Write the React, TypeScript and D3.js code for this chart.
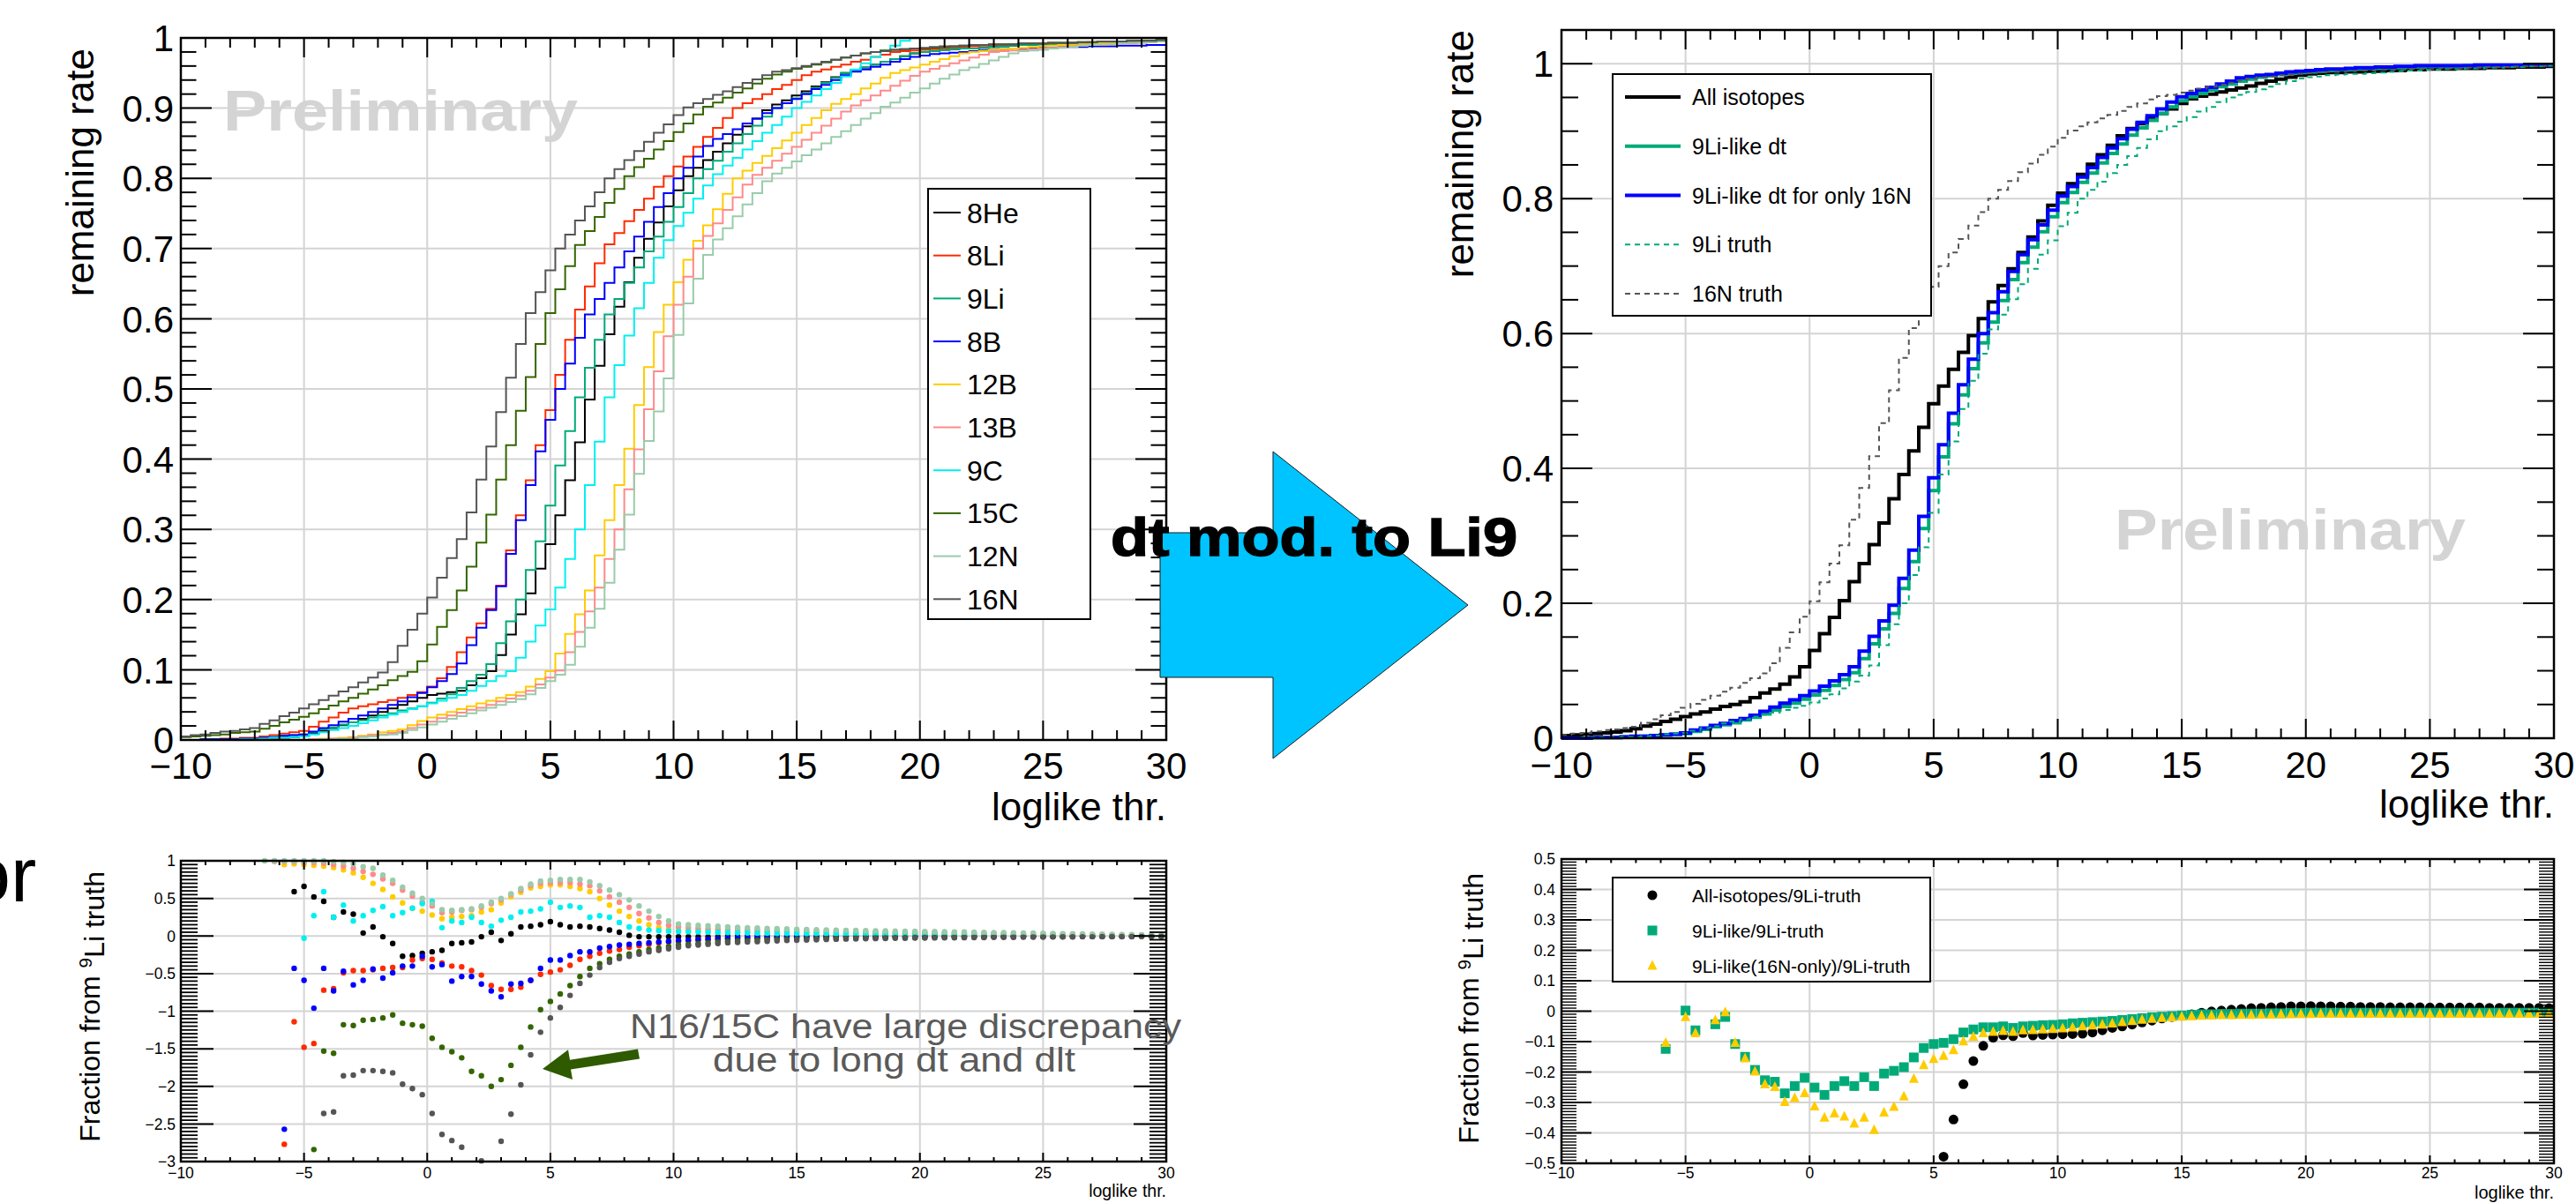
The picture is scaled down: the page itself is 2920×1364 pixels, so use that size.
import React, { useEffect, useRef } from "react";
import * as d3 from "d3";

const FONT = "'Liberation Sans', Arial, Helvetica, sans-serif";
const GRID = "#d4d4d4";

// loglike threshold histograms: 100 bins of 0.4 from -10 to 30
const BIN_LO = -10;
const BIN_W = 0.4;

// ---- top left: remaining rate per isotope ----
const he8 = [
  0, 0, 0, 0, 0, 0, 0.001, 0.001, 0.002, 0.003,
  0.003, 0.004, 0.005, 0.009, 0.013, 0.017, 0.021, 0.025, 0.030, 0.035,
  0.040, 0.045, 0.050, 0.055, 0.060, 0.064, 0.066, 0.068, 0.070, 0.078,
  0.088, 0.098, 0.121, 0.150, 0.179, 0.209, 0.244, 0.279, 0.320, 0.370,
  0.424, 0.485, 0.533, 0.578, 0.617, 0.652, 0.687, 0.714, 0.737, 0.760,
  0.783, 0.803, 0.815, 0.826, 0.838, 0.850, 0.862, 0.874, 0.885, 0.897,
  0.905, 0.911, 0.918, 0.924, 0.931, 0.937, 0.944, 0.950, 0.954, 0.958,
  0.962, 0.966, 0.970, 0.974, 0.978, 0.980, 0.981, 0.983, 0.984, 0.985,
  0.985, 0.986, 0.987, 0.988, 0.989, 0.990, 0.990, 0.991, 0.991, 0.992,
  0.992, 0.993, 0.993, 0.994, 0.994, 0.995, 0.995, 0.996, 0.996, 0.997,
];
const li8 = [
  0, 0, 0.001, 0.001, 0.002, 0.002, 0.003, 0.003, 0.005, 0.007,
  0.009, 0.011, 0.013, 0.019, 0.026, 0.032, 0.039, 0.045, 0.048, 0.051,
  0.054, 0.057, 0.060, 0.064, 0.068, 0.076, 0.088, 0.104, 0.125, 0.146,
  0.166, 0.187, 0.220, 0.270, 0.320, 0.370, 0.420, 0.470, 0.520, 0.570,
  0.613, 0.646, 0.679, 0.706, 0.722, 0.739, 0.755, 0.771, 0.788, 0.803,
  0.817, 0.831, 0.845, 0.859, 0.872, 0.886, 0.900, 0.907, 0.913, 0.920,
  0.927, 0.933, 0.940, 0.947, 0.952, 0.955, 0.959, 0.962, 0.966, 0.969,
  0.973, 0.976, 0.980, 0.981, 0.982, 0.983, 0.984, 0.985, 0.986, 0.987,
  0.988, 0.989, 0.990, 0.990, 0.991, 0.991, 0.991, 0.992, 0.992, 0.992,
  0.993, 0.993, 0.994, 0.994, 0.994, 0.995, 0.995, 0.996, 0.996, 0.997,
];
const li9 = [
  0, 0, 0.001, 0.001, 0.001, 0.001, 0.002, 0.002, 0.003, 0.004,
  0.006, 0.007, 0.008, 0.011, 0.015, 0.018, 0.022, 0.025, 0.028, 0.032,
  0.035, 0.038, 0.042, 0.045, 0.048, 0.053, 0.059, 0.065, 0.074, 0.084,
  0.093, 0.108, 0.138, 0.169, 0.200, 0.242, 0.283, 0.334, 0.391, 0.440,
  0.488, 0.530, 0.570, 0.606, 0.628, 0.651, 0.673, 0.696, 0.717, 0.738,
  0.759, 0.779, 0.800, 0.813, 0.825, 0.838, 0.850, 0.863, 0.875, 0.888,
  0.900, 0.907, 0.914, 0.921, 0.929, 0.936, 0.943, 0.950, 0.954, 0.958,
  0.962, 0.966, 0.970, 0.974, 0.978, 0.980, 0.981, 0.983, 0.984, 0.985,
  0.985, 0.986, 0.987, 0.988, 0.989, 0.990, 0.990, 0.991, 0.991, 0.992,
  0.992, 0.993, 0.993, 0.994, 0.994, 0.995, 0.995, 0.996, 0.996, 0.997,
];
const b8 = [
  0, 0, 0.001, 0.001, 0.001, 0.001, 0.002, 0.002, 0.003, 0.004,
  0.006, 0.007, 0.008, 0.012, 0.017, 0.021, 0.026, 0.030, 0.035, 0.040,
  0.045, 0.050, 0.055, 0.061, 0.067, 0.075, 0.084, 0.094, 0.109, 0.135,
  0.160, 0.185, 0.219, 0.265, 0.313, 0.363, 0.411, 0.456, 0.500, 0.536,
  0.573, 0.606, 0.628, 0.651, 0.673, 0.696, 0.717, 0.738, 0.759, 0.779,
  0.800, 0.815, 0.831, 0.846, 0.856, 0.863, 0.870, 0.878, 0.885, 0.893,
  0.900, 0.907, 0.913, 0.920, 0.927, 0.933, 0.940, 0.947, 0.952, 0.955,
  0.959, 0.962, 0.966, 0.970, 0.973, 0.975, 0.977, 0.978, 0.979, 0.980,
  0.981, 0.982, 0.983, 0.984, 0.985, 0.985, 0.986, 0.986, 0.986, 0.987,
  0.987, 0.987, 0.988, 0.988, 0.988, 0.989, 0.989, 0.989, 0.990, 0.990,
];
const b12 = [
  0, 0, 0, 0, 0, 0, 0, 0, 0, 0,
  0, 0, 0, 0.001, 0.002, 0.002, 0.003, 0.004, 0.006, 0.008,
  0.011, 0.013, 0.015, 0.021, 0.027, 0.032, 0.036, 0.040, 0.044, 0.048,
  0.052, 0.056, 0.060, 0.064, 0.068, 0.076, 0.087, 0.098, 0.123, 0.151,
  0.179, 0.213, 0.263, 0.313, 0.363, 0.415, 0.477, 0.531, 0.581, 0.620,
  0.652, 0.684, 0.711, 0.733, 0.756, 0.778, 0.800, 0.811, 0.822, 0.832,
  0.843, 0.854, 0.865, 0.876, 0.886, 0.897, 0.906, 0.913, 0.920, 0.928,
  0.935, 0.943, 0.950, 0.954, 0.958, 0.962, 0.966, 0.970, 0.974, 0.978,
  0.980, 0.981, 0.983, 0.984, 0.985, 0.986, 0.987, 0.988, 0.989, 0.990,
  0.990, 0.991, 0.991, 0.992, 0.992, 0.993, 0.993, 0.994, 0.994, 0.995,
];
const b13 = [
  0, 0, 0, 0, 0, 0, 0, 0, 0, 0,
  0, 0, 0, 0.001, 0.001, 0.002, 0.002, 0.003, 0.005, 0.007,
  0.008, 0.010, 0.012, 0.017, 0.022, 0.026, 0.031, 0.035, 0.039, 0.043,
  0.046, 0.050, 0.055, 0.059, 0.063, 0.070, 0.079, 0.089, 0.099, 0.125,
  0.154, 0.183, 0.217, 0.258, 0.300, 0.357, 0.414, 0.471, 0.525, 0.575,
  0.620, 0.660, 0.700, 0.718, 0.736, 0.755, 0.773, 0.791, 0.805, 0.815,
  0.825, 0.835, 0.845, 0.855, 0.865, 0.875, 0.885, 0.895, 0.904, 0.911,
  0.918, 0.925, 0.932, 0.939, 0.946, 0.952, 0.956, 0.960, 0.964, 0.968,
  0.972, 0.976, 0.980, 0.981, 0.982, 0.983, 0.984, 0.985, 0.986, 0.987,
  0.988, 0.989, 0.990, 0.990, 0.991, 0.992, 0.992, 0.993, 0.994, 0.995,
];
const c9 = [
  0, 0, 0, 0, 0, 0, 0.001, 0.001, 0.002, 0.003,
  0.003, 0.004, 0.005, 0.008, 0.011, 0.014, 0.017, 0.020, 0.024, 0.028,
  0.032, 0.036, 0.040, 0.044, 0.048, 0.052, 0.056, 0.060, 0.064, 0.070,
  0.077, 0.084, 0.091, 0.098, 0.117, 0.140, 0.163, 0.186, 0.217, 0.258,
  0.300, 0.363, 0.425, 0.488, 0.534, 0.576, 0.615, 0.651, 0.687, 0.712,
  0.732, 0.751, 0.771, 0.790, 0.806, 0.818, 0.829, 0.841, 0.853, 0.865,
  0.876, 0.888, 0.900, 0.909, 0.918, 0.927, 0.936, 0.945, 0.955, 0.964,
  0.973, 0.982, 0.989, 0.996, 1, 1, 1, 1, 1, 1,
  1, 1, 1, 1, 1, 1, 1, 1, 1, 1,
  1, 1, 1, 1, 1, 1, 1, 1, 1, 1,
];
const c15 = [
  0.004, 0.005, 0.006, 0.007, 0.008, 0.010, 0.011, 0.012, 0.016, 0.020,
  0.025, 0.029, 0.033, 0.038, 0.044, 0.049, 0.055, 0.060, 0.066, 0.072,
  0.078, 0.085, 0.091, 0.097, 0.112, 0.136, 0.161, 0.185, 0.213, 0.247,
  0.281, 0.321, 0.371, 0.420, 0.469, 0.517, 0.564, 0.608, 0.642, 0.675,
  0.705, 0.725, 0.745, 0.765, 0.785, 0.803, 0.816, 0.828, 0.841, 0.853,
  0.866, 0.878, 0.891, 0.902, 0.908, 0.915, 0.922, 0.928, 0.935, 0.942,
  0.948, 0.952, 0.956, 0.959, 0.962, 0.965, 0.969, 0.972, 0.975, 0.978,
  0.980, 0.982, 0.983, 0.984, 0.985, 0.985, 0.986, 0.987, 0.988, 0.989,
  0.990, 0.990, 0.991, 0.991, 0.991, 0.992, 0.992, 0.992, 0.993, 0.993,
  0.993, 0.994, 0.994, 0.995, 0.995, 0.995, 0.996, 0.996, 0.996, 0.997,
];
const n12 = [
  0, 0, 0, 0, 0, 0, 0, 0, 0, 0,
  0, 0, 0, 0, 0.001, 0.001, 0.002, 0.002, 0.004, 0.005,
  0.007, 0.008, 0.010, 0.014, 0.018, 0.022, 0.026, 0.030, 0.034, 0.038,
  0.042, 0.046, 0.050, 0.054, 0.058, 0.065, 0.074, 0.084, 0.093, 0.107,
  0.133, 0.160, 0.187, 0.224, 0.271, 0.321, 0.379, 0.426, 0.468, 0.515,
  0.577, 0.622, 0.657, 0.691, 0.713, 0.729, 0.746, 0.763, 0.779, 0.796,
  0.807, 0.815, 0.824, 0.833, 0.841, 0.850, 0.859, 0.867, 0.876, 0.885,
  0.893, 0.902, 0.908, 0.915, 0.922, 0.928, 0.935, 0.942, 0.948, 0.954,
  0.958, 0.963, 0.968, 0.973, 0.978, 0.981, 0.982, 0.983, 0.985, 0.986,
  0.987, 0.989, 0.990, 0.991, 0.991, 0.992, 0.993, 0.993, 0.994, 0.995,
];
const n16 = [
  0.005, 0.007, 0.008, 0.010, 0.012, 0.013, 0.015, 0.017, 0.023, 0.028,
  0.034, 0.039, 0.045, 0.051, 0.057, 0.063, 0.069, 0.075, 0.082, 0.089,
  0.096, 0.111, 0.134, 0.157, 0.180, 0.203, 0.231, 0.259, 0.286, 0.324,
  0.371, 0.418, 0.467, 0.516, 0.564, 0.608, 0.638, 0.669, 0.700, 0.720,
  0.740, 0.760, 0.780, 0.800, 0.813, 0.826, 0.839, 0.852, 0.865, 0.877,
  0.890, 0.901, 0.907, 0.913, 0.919, 0.924, 0.930, 0.936, 0.941, 0.947,
  0.952, 0.954, 0.957, 0.960, 0.963, 0.966, 0.969, 0.972, 0.975, 0.978,
  0.980, 0.981, 0.983, 0.984, 0.985, 0.986, 0.987, 0.988, 0.988, 0.989,
  0.990, 0.990, 0.991, 0.991, 0.991, 0.992, 0.992, 0.992, 0.993, 0.993,
  0.993, 0.994, 0.994, 0.995, 0.995, 0.995, 0.996, 0.996, 0.996, 0.997,
];

// ---- top right ----
const allIso = [
  0.004, 0.005, 0.006, 0.007, 0.008, 0.009, 0.011, 0.014, 0.018, 0.021,
  0.025, 0.028, 0.032, 0.036, 0.039, 0.043, 0.047, 0.050, 0.054, 0.060,
  0.067, 0.073, 0.080, 0.091, 0.106, 0.130, 0.155, 0.179, 0.204, 0.232,
  0.259, 0.287, 0.319, 0.355, 0.391, 0.426, 0.461, 0.496, 0.522, 0.547,
  0.572, 0.597, 0.622, 0.647, 0.671, 0.696, 0.720, 0.743, 0.767, 0.790,
  0.808, 0.822, 0.836, 0.851, 0.865, 0.879, 0.893, 0.904, 0.911, 0.919,
  0.926, 0.933, 0.941, 0.948, 0.952, 0.955, 0.958, 0.961, 0.964, 0.967,
  0.971, 0.974, 0.977, 0.980, 0.983, 0.985, 0.986, 0.987, 0.987, 0.988,
  0.988, 0.989, 0.989, 0.990, 0.990, 0.991, 0.991, 0.992, 0.992, 0.992,
  0.993, 0.993, 0.993, 0.994, 0.994, 0.994, 0.995, 0.995, 0.995, 0.996,
];
const liLike = [
  0, 0, 0, 0.001, 0.001, 0.001, 0.002, 0.002, 0.003, 0.004,
  0.005, 0.006, 0.007, 0.010, 0.013, 0.017, 0.020, 0.023, 0.027, 0.031,
  0.036, 0.042, 0.047, 0.052, 0.058, 0.064, 0.071, 0.078, 0.087, 0.097,
  0.118, 0.140, 0.162, 0.185, 0.222, 0.262, 0.311, 0.367, 0.417, 0.466,
  0.509, 0.548, 0.586, 0.617, 0.649, 0.680, 0.705, 0.728, 0.751, 0.773,
  0.794, 0.809, 0.824, 0.838, 0.853, 0.867, 0.881, 0.894, 0.905, 0.916,
  0.926, 0.936, 0.945, 0.951, 0.956, 0.961, 0.966, 0.970, 0.974, 0.977,
  0.980, 0.982, 0.984, 0.986, 0.987, 0.988, 0.989, 0.990, 0.991, 0.991,
  0.992, 0.993, 0.993, 0.994, 0.994, 0.995, 0.995, 0.996, 0.996, 0.996,
  0.996, 0.997, 0.997, 0.997, 0.997, 0.997, 0.997, 0.998, 0.998, 0.998,
];
const liLike16N = [
  0, 0, 0, 0.001, 0.001, 0.001, 0.002, 0.003, 0.003, 0.004,
  0.005, 0.006, 0.008, 0.012, 0.015, 0.019, 0.022, 0.026, 0.029, 0.034,
  0.040, 0.046, 0.052, 0.057, 0.063, 0.070, 0.077, 0.085, 0.094, 0.106,
  0.129, 0.151, 0.174, 0.197, 0.237, 0.279, 0.329, 0.386, 0.435, 0.482,
  0.524, 0.562, 0.600, 0.631, 0.662, 0.692, 0.717, 0.739, 0.761, 0.783,
  0.804, 0.818, 0.832, 0.846, 0.861, 0.875, 0.889, 0.903, 0.913, 0.923,
  0.933, 0.943, 0.951, 0.956, 0.961, 0.965, 0.970, 0.974, 0.979, 0.981,
  0.983, 0.984, 0.986, 0.988, 0.989, 0.990, 0.991, 0.992, 0.992, 0.993,
  0.994, 0.994, 0.995, 0.995, 0.996, 0.996, 0.997, 0.997, 0.997, 0.997,
  0.997, 0.997, 0.998, 0.998, 0.998, 0.998, 0.998, 0.998, 0.998, 0.998,
];

// ---- bottom left: fraction from 9Li truth, per isotope ----
const fr8He = [
  null, null, null, null, null, null, null, null, null, null,
  null, 0.59, 0.66, 0.52, 0.46, 0.25, 0.32, 0.29, 0.04, 0.12,
  -0.01, -0.10, -0.27, -0.26, -0.23, -0.21, -0.19, -0.10, -0.09, -0.08,
  -0.01, 0.05, -0.06, 0.03, 0.12, 0.13, 0.15, 0.19, 0.15, 0.12,
  0.13, 0.12, 0.10, 0.08, 0.05, 0.01, -0.01, -0.01, -0.01, -0.01,
  -0.01, -0.01, -0.01, -0.01, -0.01, -0.005, -0.005, -0.005, -0.005, -0.005,
  -0.005, -0.005, -0.005, -0.005, -0.005, 0, 0, 0, 0, 0,
  0, 0, 0, 0, 0, 0, 0, 0, 0, 0,
  0, 0, 0, 0, 0, 0, 0, 0, 0, 0,
  0, 0, 0, 0, 0, 0, 0, 0, 0, 0,
];
const fr8Li = [
  null, null, null, null, null, null, null, null, null, null,
  -2.77, -1.14, -1.48, -1.43, -0.72, -0.70, -0.49, -0.46, -0.46, -0.45,
  -0.43, -0.42, -0.42, -0.32, -0.30, -0.31, -0.36, -0.40, -0.41, -0.46,
  -0.52, -0.66, -0.71, -0.71, -0.68, -0.59, -0.51, -0.48, -0.45, -0.39,
  -0.31, -0.27, -0.23, -0.20, -0.18, -0.15, -0.13, -0.11, -0.09, -0.08,
  -0.07, -0.06, -0.05, -0.045, -0.04, -0.035, -0.03, -0.027, -0.024, -0.021,
  -0.02, -0.018, -0.016, -0.014, -0.013, -0.012, -0.011, -0.01, -0.01, -0.01,
  -0.01, -0.009, -0.009, -0.008, -0.008, -0.008, -0.007, -0.007, -0.007, -0.006,
  -0.006, -0.006, -0.005, -0.005, -0.005, -0.005, -0.004, -0.004, -0.004, -0.004,
  -0.003, -0.003, -0.003, -0.003, -0.002, -0.002, -0.002, -0.001, -0.001, 0,
];
const fr8B = [
  null, null, null, null, null, null, null, null, null, null,
  -2.57, -0.43, -0.59, -0.96, -0.43, -0.73, -0.47, -0.65, -0.59, -0.44,
  -0.56, -0.49, -0.40, -0.40, -0.27, -0.41, -0.38, -0.60, -0.54, -0.54,
  -0.64, -0.73, -0.81, -0.64, -0.63, -0.59, -0.43, -0.32, -0.32, -0.26,
  -0.21, -0.21, -0.16, -0.14, -0.12, -0.11, -0.10, -0.09, -0.08, -0.07,
  -0.06, -0.055, -0.05, -0.045, -0.04, -0.035, -0.03, -0.027, -0.024, -0.021,
  -0.02, -0.018, -0.016, -0.014, -0.013, -0.012, -0.011, -0.01, -0.01, -0.01,
  -0.01, -0.009, -0.009, -0.008, -0.008, -0.008, -0.007, -0.007, -0.007, -0.006,
  -0.006, -0.006, -0.005, -0.005, -0.005, -0.005, -0.004, -0.004, -0.004, -0.004,
  -0.003, -0.003, -0.003, -0.003, -0.002, -0.002, -0.002, -0.001, -0.001, 0,
];
const fr12B = [
  null, null, null, null, null, null, null, null, null, null,
  0.95, 0.96, 0.95, 0.94, 0.93, 0.91, 0.88, 0.84, 0.78, 0.70,
  0.62, 0.52, 0.44, 0.37, 0.33, 0.28, 0.23, 0.25, 0.26, 0.27,
  0.32, 0.35, 0.44, 0.52, 0.58, 0.64, 0.66, 0.68, 0.68, 0.66,
  0.63, 0.59, 0.50, 0.41, 0.33, 0.26, 0.20, 0.15, 0.11, 0.09,
  0.08, 0.075, 0.07, 0.066, 0.063, 0.06, 0.057, 0.054, 0.052, 0.05,
  0.049, 0.048, 0.047, 0.046, 0.045, 0.044, 0.043, 0.042, 0.041, 0.040,
  0.039, 0.038, 0.037, 0.036, 0.035, 0.035, 0.034, 0.033, 0.032, 0.031,
  0.030, 0.029, 0.028, 0.027, 0.026, 0.025, 0.024, 0.022, 0.020, 0.019,
  0.017, 0.016, 0.014, 0.013, 0.011, 0.010, 0.008, 0.007, 0.006, 0.005,
];
const fr13B = [
  null, null, null, null, null, null, null, null, null, 0.99,
  0.99, 0.99, 0.98, 0.98, 0.97, 0.95, 0.93, 0.90, 0.86, 0.82,
  0.76, 0.70, 0.61, 0.53, 0.45, 0.40, 0.31, 0.32, 0.34, 0.35,
  0.38, 0.43, 0.48, 0.55, 0.61, 0.67, 0.70, 0.71, 0.71, 0.71,
  0.69, 0.67, 0.60, 0.52, 0.45, 0.38, 0.30, 0.24, 0.18, 0.14,
  0.12, 0.11, 0.10, 0.095, 0.09, 0.087, 0.083, 0.08, 0.077, 0.074,
  0.072, 0.07, 0.068, 0.066, 0.064, 0.062, 0.06, 0.058, 0.056, 0.054,
  0.052, 0.05, 0.049, 0.048, 0.047, 0.045, 0.044, 0.042, 0.041, 0.039,
  0.038, 0.036, 0.034, 0.032, 0.030, 0.028, 0.026, 0.025, 0.023, 0.021,
  0.020, 0.018, 0.017, 0.016, 0.015, 0.014, 0.013, 0.012, 0.011, 0.010,
];
const fr9C = [
  null, null, null, null, null, null, null, null, null, null,
  null, null, -0.03, 0.27, 0.59, 0.25, 0.41, 0.20, 0.27, 0.34,
  0.39, 0.27, 0.31, 0.37, 0.43, 0.46, 0.11, 0.20, 0.18, 0.25,
  0.18, 0.13, 0.21, 0.25, 0.32, 0.33, 0.36, 0.45, 0.38, 0.40,
  0.38, 0.25, 0.27, 0.25, 0.18, 0.12, 0.10, 0.08, 0.07, 0.065,
  0.06, 0.057, 0.054, 0.051, 0.048, 0.045, 0.043, 0.041, 0.039, 0.037,
  0.036, 0.035, 0.034, 0.033, 0.032, 0.031, 0.030, 0.029, 0.029, 0.028,
  0.027, 0.027, 0.026, 0.026, 0.025, 0.025, 0.024, 0.023, 0.023, 0.022,
  0.021, 0.021, 0.020, 0.019, 0.018, 0.017, 0.016, 0.015, 0.014, 0.013,
  0.012, 0.011, 0.010, 0.009, 0.008, 0.007, 0.006, 0.006, 0.005, 0.005,
];
const fr15C = [
  null, null, null, null, null, null, null, null, null, null,
  null, null, null, -2.84, -1.53, -1.56, -1.18, -1.19, -1.12, -1.11,
  -1.09, -1.05, -1.16, -1.18, -1.20, -1.36, -1.48, -1.54, -1.62, -1.80,
  -1.86, -2.00, -1.91, -1.72, -1.48, -1.21, -0.98, -0.87, -0.77, -0.66,
  -0.54, -0.43, -0.37, -0.31, -0.27, -0.24, -0.21, -0.18, -0.16, -0.14,
  -0.12, -0.11, -0.10, -0.09, -0.08, -0.07, -0.065, -0.06, -0.055, -0.05,
  -0.047, -0.044, -0.042, -0.04, -0.038, -0.036, -0.034, -0.032, -0.03, -0.028,
  -0.026, -0.025, -0.024, -0.022, -0.021, -0.02, -0.019, -0.018, -0.017, -0.016,
  -0.015, -0.014, -0.013, -0.012, -0.011, -0.01, -0.01, -0.009, -0.009, -0.008,
  -0.008, -0.007, -0.006, -0.006, -0.005, -0.004, -0.004, -0.003, -0.002, -0.002,
];
const fr12N = [
  null, null, null, null, null, null, null, null, 1.0, 1.0,
  1.0, 1.0, 1.0, 1.0, 1.0, 0.99, 0.98, 0.96, 0.92, 0.90,
  0.81, 0.74, 0.65, 0.57, 0.50, 0.43, 0.35, 0.34, 0.35, 0.36,
  0.40, 0.45, 0.50, 0.56, 0.63, 0.69, 0.73, 0.74, 0.75, 0.75,
  0.75, 0.72, 0.67, 0.61, 0.55, 0.48, 0.40, 0.33, 0.26, 0.20,
  0.16, 0.15, 0.14, 0.135, 0.13, 0.12, 0.115, 0.11, 0.105, 0.10,
  0.097, 0.094, 0.09, 0.087, 0.084, 0.081, 0.078, 0.075, 0.073, 0.071,
  0.069, 0.067, 0.065, 0.063, 0.061, 0.06, 0.058, 0.056, 0.054, 0.052,
  0.050, 0.048, 0.046, 0.044, 0.042, 0.040, 0.038, 0.035, 0.033, 0.031,
  0.029, 0.027, 0.025, 0.023, 0.021, 0.019, 0.017, 0.015, 0.013, 0.011,
];
const fr16N = [
  null, null, null, null, null, null, null, null, null, null,
  null, null, null, null, -2.36, -2.34, -1.86, -1.85, -1.79, -1.79,
  -1.80, -1.82, -1.97, -2.03, -2.11, -2.36, -2.64, -2.72, -2.81, null,
  -2.99, null, -2.73, -2.37, -1.98, -1.58, -1.28, -1.09, -0.95, -0.79,
  -0.63, -0.52, -0.42, -0.35, -0.30, -0.27, -0.24, -0.21, -0.19, -0.17,
  -0.15, -0.13, -0.12, -0.11, -0.10, -0.09, -0.085, -0.08, -0.075, -0.07,
  -0.065, -0.06, -0.056, -0.052, -0.049, -0.046, -0.043, -0.04, -0.038, -0.036,
  -0.034, -0.032, -0.03, -0.029, -0.027, -0.026, -0.025, -0.024, -0.023, -0.022,
  -0.021, -0.02, -0.019, -0.018, -0.017, -0.016, -0.015, -0.014, -0.013, -0.012,
  -0.011, -0.01, -0.01, -0.009, -0.009, -0.008, -0.008, -0.007, -0.007, -0.006,
];

// ---- bottom right ----
const rAllIso = [
  null, null, null, null, null, null, null, null, null, null,
  null, null, null, null, null, null, null, null, null, null,
  null, null, null, null, null, null, null, null, null, null,
  null, null, null, null, null, null, null, null, -0.478, -0.356,
  -0.240, -0.164, -0.114, -0.087, -0.079, -0.082, -0.072, -0.080, -0.078, -0.077,
  -0.076, -0.075, -0.074, -0.070, -0.063, -0.055, -0.050, -0.044, -0.037, -0.031,
  -0.024, -0.019, -0.015, -0.010, -0.005, -0.001, 0.002, 0.005, 0.007, 0.010,
  0.011, 0.013, 0.014, 0.016, 0.016, 0.017, 0.016, 0.016, 0.015, 0.015,
  0.014, 0.014, 0.014, 0.013, 0.013, 0.013, 0.013, 0.012, 0.012, 0.012,
  0.012, 0.012, 0.012, 0.011, 0.011, 0.011, 0.011, 0.011, 0.011, 0.010,
];
const rLiLike = [
  null, null, null, null, null, null, null, null, null, null,
  -0.124, null, 0.002, -0.063, null, -0.043, -0.019, -0.108, -0.150, -0.193,
  -0.227, -0.232, -0.270, -0.246, -0.219, -0.251, -0.275, -0.246, -0.230, -0.246,
  -0.217, -0.246, -0.205, -0.196, -0.184, -0.152, -0.121, -0.108, -0.104, -0.092,
  -0.070, -0.060, -0.053, -0.053, -0.050, -0.055, -0.050, -0.048, -0.046, -0.045,
  -0.043, -0.040, -0.038, -0.036, -0.034, -0.032, -0.029, -0.026, -0.023, -0.020,
  -0.018, -0.016, -0.014, -0.012, -0.010, -0.010, -0.009, -0.009, -0.008, -0.008,
  -0.008, -0.007, -0.007, -0.006, -0.006, -0.005, -0.005, -0.005, -0.005, -0.005,
  -0.005, -0.005, -0.005, -0.005, -0.005, -0.005, -0.005, -0.005, -0.005, -0.005,
  -0.005, -0.005, -0.005, -0.005, -0.005, -0.005, -0.005, -0.005, -0.005, -0.005,
];
const rLiLike16N = [
  null, null, null, null, null, null, null, null, null, null,
  -0.104, null, -0.019, -0.072, null, -0.029, -0.003, -0.104, -0.155, -0.198,
  -0.240, -0.249, -0.298, -0.285, -0.269, -0.313, -0.350, -0.336, -0.346, -0.369,
  -0.350, -0.390, -0.333, -0.314, -0.280, -0.222, -0.177, -0.157, -0.147, -0.128,
  -0.099, -0.084, -0.072, -0.068, -0.065, -0.068, -0.063, -0.062, -0.060, -0.058,
  -0.056, -0.053, -0.050, -0.047, -0.044, -0.040, -0.036, -0.032, -0.028, -0.025,
  -0.022, -0.020, -0.018, -0.016, -0.015, -0.014, -0.013, -0.013, -0.012, -0.012,
  -0.011, -0.011, -0.010, -0.010, -0.009, -0.009, -0.008, -0.008, -0.008, -0.008,
  -0.008, -0.008, -0.008, -0.008, -0.008, -0.008, -0.008, -0.008, -0.008, -0.008,
  -0.008, -0.008, -0.008, -0.008, -0.008, -0.008, -0.008, -0.008, -0.008, -0.008,
];

const isotopes = [
  { name: "8He", color: "#000000", rate: he8, frac: fr8He },
  { name: "8Li", color: "#ff2a00", rate: li8, frac: fr8Li },
  { name: "9Li", color: "#00aa78", rate: li9, frac: null },
  { name: "8B", color: "#0000ff", rate: b8, frac: fr8B },
  { name: "12B", color: "#ffcc00", rate: b12, frac: fr12B },
  { name: "13B", color: "#ff8a8a", rate: b13, frac: fr13B },
  { name: "9C", color: "#00f0f0", rate: c9, frac: fr9C },
  { name: "15C", color: "#336600", rate: c15, frac: fr15C },
  { name: "12N", color: "#99ccaa", rate: n12, frac: fr12N },
  { name: "16N", color: "#555555", rate: n16, frac: fr16N },
];

const trSeries = [
  { name: "All isotopes", color: "#000000", width: 4, dash: null, values: allIso },
  { name: "9Li-like dt", color: "#00aa78", width: 4, dash: null, values: liLike },
  { name: "9Li-like dt for only 16N", color: "#0000ff", width: 4, dash: null, values: liLike16N },
  { name: "9Li truth", color: "#00aa78", width: 2, dash: "6,5", values: li9 },
  { name: "16N truth", color: "#555555", width: 2, dash: "6,5", values: n16 },
];

const brSeries = [
  { name: "All-isotopes/9Li-truth", color: "#000000", marker: "circle", values: rAllIso },
  { name: "9Li-like/9Li-truth", color: "#00aa78", marker: "square", values: rLiLike },
  { name: "9Li-like(16N-only)/9Li-truth", color: "#ffcc00", marker: "triangle", values: rLiLike16N },
];

const X_MAJOR = [-10, -5, 0, 5, 10, 15, 20, 25, 30];
const fmt = d3.format("~g");

function steps(lo, hi, step) {
  const n = Math.round((hi - lo) / step);
  return d3.range(n + 1).map((k) => +(lo + k * step).toFixed(6));
}

function panel(svg, p, drawData) {
  const x = d3.scaleLinear().domain([-10, 30]).range([p.left, p.right]);
  const y = d3.scaleLinear().domain(p.yDomain).range([p.bottom, p.top]);
  const g = svg.append("g");

  // grid
  g.selectAll(".gx")
    .data(X_MAJOR.filter((v) => v > -10 && v < 30))
    .join("line")
    .attr("x1", (d) => x(d)).attr("x2", (d) => x(d))
    .attr("y1", p.top).attr("y2", p.bottom)
    .attr("stroke", GRID).attr("stroke-width", 2);
  g.selectAll(".gy")
    .data(p.yMajor.filter((v) => v > p.yDomain[0] && v < p.yDomain[1]))
    .join("line")
    .attr("x1", p.left).attr("x2", p.right)
    .attr("y1", (d) => y(d)).attr("y2", (d) => y(d))
    .attr("stroke", GRID).attr("stroke-width", 2);

  drawData(g, x, y);

  // ticks on all four sides
  const xTicks = steps(-10, 30, 1);
  const yTicks = steps(p.yDomain[0], p.yMinorTop, p.yMinorStep);
  const isXMaj = (v) => X_MAJOR.includes(v);
  const isYMaj = (v) => p.yMajor.some((m) => Math.abs(m - v) < 1e-6);
  const tk = g.append("g").attr("stroke", "#000");
  xTicks.forEach((v) => {
    const len = isXMaj(v) ? p.xTick[0] : p.xTick[1];
    tk.append("line").attr("x1", x(v)).attr("x2", x(v)).attr("y1", p.bottom).attr("y2", p.bottom - len).attr("stroke-width", 2);
    tk.append("line").attr("x1", x(v)).attr("x2", x(v)).attr("y1", p.top).attr("y2", p.top + len).attr("stroke-width", 2);
  });
  yTicks.forEach((v) => {
    const maj = isYMaj(v);
    const len = maj ? p.yTick[0] : p.yTick[1];
    const w = maj ? 2 : p.minorW;
    tk.append("line").attr("y1", y(v)).attr("y2", y(v)).attr("x1", p.left).attr("x2", p.left + len).attr("stroke-width", w);
    tk.append("line").attr("y1", y(v)).attr("y2", y(v)).attr("x1", p.right).attr("x2", p.right - len).attr("stroke-width", w);
  });

  g.append("rect")
    .attr("x", p.left).attr("y", p.top)
    .attr("width", p.right - p.left).attr("height", p.bottom - p.top)
    .attr("fill", "none").attr("stroke", "#000").attr("stroke-width", 2.5);

  // tick labels
  g.selectAll(".xl")
    .data(X_MAJOR)
    .join("text")
    .attr("x", (d) => x(d)).attr("y", p.xLabBase)
    .attr("text-anchor", "middle")
    .style("font-family", FONT).style("font-size", p.tickFont + "px")
    .text((d) => fmt(d));
  g.selectAll(".yl")
    .data(p.yMajor)
    .join("text")
    .attr("x", p.yLabRight).attr("y", (d) => y(d))
    .attr("dy", "0.36em")
    .attr("text-anchor", "end")
    .style("font-family", FONT).style("font-size", p.tickFont + "px")
    .text((d) => fmt(d));

  // axis titles
  g.append("text")
    .attr("x", p.right).attr("y", p.xTitleBase)
    .attr("text-anchor", "end")
    .style("font-family", FONT).style("font-size", p.titleFont + "px")
    .text("loglike thr.");

  const yt = g.append("text")
    .attr("transform", `translate(${p.yTitleX},${p.yTitleTop}) rotate(-90)`)
    .attr("text-anchor", "end")
    .style("font-family", FONT).style("font-size", p.yTitleFont + "px");
  if (p.yTitle === "frac") {
    yt.append("tspan").text("Fraction from ");
    yt.append("tspan").attr("dy", "-0.42em").style("font-size", "0.65em").text("9");
    yt.append("tspan").attr("dy", "0.42em").text("Li truth");
  } else {
    yt.text(p.yTitle);
  }
  return { x, y };
}

function stepPath(x, y, values) {
  const pts = [...values, values[values.length - 1]];
  return d3.line()
    .x((_, i) => x(BIN_LO + i * BIN_W))
    .y((d) => y(d))
    .curve(d3.curveStepAfter)(pts);
}

function pointsOf(values) {
  return values
    .map((v, i) => ({ v, c: BIN_LO + (i + 0.5) * BIN_W }))
    .filter((d) => d.v !== null);
}

function marker(sel, kind, color, cx, cy, s) {
  if (kind === "circle") {
    sel.append("circle").attr("cx", cx).attr("cy", cy).attr("r", s / 2).attr("fill", color);
  } else if (kind === "square") {
    sel.append("rect").attr("x", cx - s / 2).attr("y", cy - s / 2).attr("width", s).attr("height", s).attr("fill", color);
  } else {
    sel.append("path")
      .attr("d", `M${cx},${cy - s * 0.58}L${cx + s / 2},${cy + s * 0.42}L${cx - s / 2},${cy + s * 0.42}Z`)
      .attr("fill", color);
  }
}

export default function App() {
  const svgRef = useRef(null);

  useEffect(() => {
    const svg = d3.select(svgRef.current);
    svg.selectAll("*").remove();

    // ---------- top left ----------
    panel(svg, {
      left: 205, right: 1322, top: 43, bottom: 839,
      yDomain: [0, 1], yMajor: steps(0, 1, 0.1), yMinorStep: 0.02, yMinorTop: 1, minorW: 2,
      yTick: [35, 17.5], xTick: [22, 11], tickFont: 42,
      xLabBase: 883, yLabRight: 197,
      xTitleBase: 930, titleFont: 44,
      yTitle: "remaining rate", yTitleX: 106, yTitleTop: 55, yTitleFont: 44,
    }, (g, x, y) => {
      isotopes.forEach((s) => {
        g.append("path").attr("d", stepPath(x, y, s.rate))
          .attr("fill", "none").attr("stroke", s.color).attr("stroke-width", 2);
      });
    });

    svg.append("text")
      .attr("x", 253).attr("y", 148)
      .attr("textLength", 402).attr("lengthAdjust", "spacingAndGlyphs")
      .style("font-family", FONT).style("font-weight", "bold").style("font-size", "64px")
      .attr("fill", "#d4d4d4").text("Preliminary");

    const lg = svg.append("g");
    lg.append("rect").attr("x", 1052).attr("y", 214).attr("width", 184).attr("height", 488)
      .attr("fill", "#fff").attr("stroke", "#000").attr("stroke-width", 2);
    isotopes.forEach((s, k) => {
      const yy = 241 + k * 48.7;
      lg.append("line").attr("x1", 1058).attr("x2", 1089).attr("y1", yy).attr("y2", yy)
        .attr("stroke", s.color).attr("stroke-width", 2);
      lg.append("text").attr("x", 1096).attr("y", yy).attr("dy", "0.36em")
        .style("font-family", FONT).style("font-size", "32px").text(s.name);
    });

    // ---------- top right ----------
    panel(svg, {
      left: 1770, right: 2895, top: 34, bottom: 837,
      yDomain: [0, 1.05], yMajor: steps(0, 1, 0.2), yMinorStep: 0.05, yMinorTop: 1.05, minorW: 2,
      yTick: [35, 19], xTick: [22, 11], tickFont: 42,
      xLabBase: 882, yLabRight: 1761,
      xTitleBase: 927, titleFont: 44,
      yTitle: "remaining rate", yTitleX: 1670, yTitleTop: 34, yTitleFont: 44,
    }, (g, x, y) => {
      trSeries.forEach((s) => {
        const p = g.append("path").attr("d", stepPath(x, y, s.values))
          .attr("fill", "none").attr("stroke", s.color).attr("stroke-width", s.width);
        if (s.dash) p.attr("stroke-dasharray", s.dash);
      });
    });

    svg.append("text")
      .attr("x", 2397).attr("y", 623)
      .attr("textLength", 398).attr("lengthAdjust", "spacingAndGlyphs")
      .style("font-family", FONT).style("font-weight", "bold").style("font-size", "64px")
      .attr("fill", "#d4d4d4").text("Preliminary");

    const lg2 = svg.append("g");
    lg2.append("rect").attr("x", 1828).attr("y", 84).attr("width", 361).attr("height", 274)
      .attr("fill", "#fff").attr("stroke", "#000").attr("stroke-width", 2);
    trSeries.forEach((s, k) => {
      const yy = 110 + k * 55.75;
      const ln = lg2.append("line").attr("x1", 1842).attr("x2", 1905).attr("y1", yy).attr("y2", yy)
        .attr("stroke", s.color).attr("stroke-width", s.width);
      if (s.dash) ln.attr("stroke-dasharray", s.dash);
      lg2.append("text").attr("x", 1918).attr("y", yy).attr("dy", "0.36em")
        .style("font-family", FONT).style("font-size", "25px").text(s.name);
    });

    // ---------- bottom left ----------
    panel(svg, {
      left: 205, right: 1322, top: 976, bottom: 1317,
      yDomain: [-3, 1], yMajor: steps(-3, 1, 0.5), yMinorStep: 0.05, yMinorTop: 1, minorW: 1.8,
      yTick: [37, 19], xTick: [10, 5], tickFont: 17.5,
      xLabBase: 1336, yLabRight: 199,
      xTitleBase: 1357, titleFont: 19.5,
      yTitle: "frac", yTitleX: 113, yTitleTop: 988, yTitleFont: 32,
    }, (g, x, y) => {
      isotopes.filter((s) => s.frac).forEach((s) => {
        g.append("g").selectAll("circle")
          .data(pointsOf(s.frac))
          .join("circle")
          .attr("cx", (d) => x(d.c)).attr("cy", (d) => y(d.v))
          .attr("r", 3.2).attr("fill", s.color);
      });
    });

    // ---------- bottom right ----------
    panel(svg, {
      left: 1770, right: 2895, top: 974, bottom: 1319,
      yDomain: [-0.5, 0.5], yMajor: steps(-0.5, 0.5, 0.1), yMinorStep: 0.01, yMinorTop: 0.5, minorW: 1.4,
      yTick: [34, 17], xTick: [9, 4.5], tickFont: 17.5,
      xLabBase: 1336, yLabRight: 1763,
      xTitleBase: 1359, titleFont: 20,
      yTitle: "frac", yTitleX: 1676, yTitleTop: 990, yTitleFont: 32,
    }, (g, x, y) => {
      brSeries.forEach((s) => {
        const mg = g.append("g");
        pointsOf(s.values).forEach((d) => marker(mg, s.marker, s.color, x(d.c), y(d.v), 11));
      });
    });

    const lg3 = svg.append("g");
    lg3.append("rect").attr("x", 1828).attr("y", 995).attr("width", 360).attr("height", 118)
      .attr("fill", "#fff").attr("stroke", "#000").attr("stroke-width", 2);
    brSeries.forEach((s, k) => {
      const yy = 1015 + k * 40;
      marker(lg3, s.marker, s.color, 1873, yy, 11);
      lg3.append("text").attr("x", 1918).attr("y", yy).attr("dy", "0.36em")
        .style("font-family", FONT).style("font-size", "21px").text(s.name);
    });

    // ---------- annotations ----------
    svg.append("polygon")
      .attr("points", "1315,604 1443,604 1443,512 1664,686 1443,860 1443,768 1315,768")
      .attr("fill", "#00c4ff").attr("stroke", "#1a1a1a").attr("stroke-width", 1);
    svg.append("text")
      .attr("x", 1259).attr("y", 630)
      .attr("textLength", 461).attr("lengthAdjust", "spacingAndGlyphs")
      .style("font-family", FONT).style("font-weight", "bold").style("font-size", "62px")
      .attr("stroke", "#000").attr("stroke-width", 1.5)
      .text("dt mod. to Li9");

    svg.append("polygon")
      .attr("points", "615,1212 649,1224 647,1212.5 725,1200.4 723,1189.6 646,1201.7 644,1190.3")
      .attr("fill", "#2f5a00");
    svg.append("text")
      .attr("x", 714).attr("y", 1177)
      .attr("textLength", 625).attr("lengthAdjust", "spacingAndGlyphs")
      .style("font-family", FONT).style("font-size", "38px").attr("fill", "#5a5a5a")
      .text("N16/15C have large discrepancy");
    svg.append("text")
      .attr("x", 808).attr("y", 1215)
      .attr("textLength", 411).attr("lengthAdjust", "spacingAndGlyphs")
      .style("font-family", FONT).style("font-size", "38px").attr("fill", "#5a5a5a")
      .text("due to long dt and dlt");

    svg.append("text")
      .attr("x", -37).attr("y", 1022)
      .style("font-family", FONT).style("font-size", "88px")
      .text("or");
  }, []);

  return (
    <svg
      ref={svgRef}
      width={2920}
      height={1364}
      style={{ position: "absolute", left: 0, top: 0, background: "#fff", display: "block" }}
    />
  );
}
